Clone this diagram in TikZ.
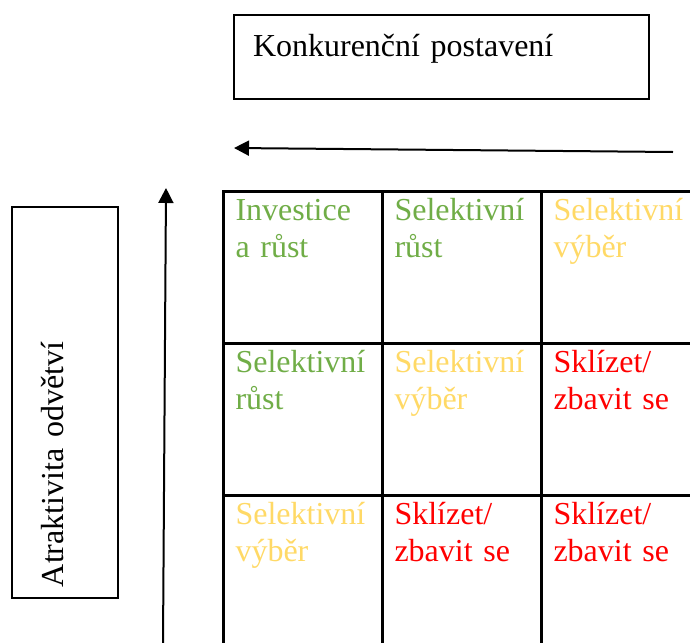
\documentclass[tikz,border=0pt]{standalone}
\usepackage{fontspec}
\setmainfont{Liberation Serif}
\usepackage{xcolor}
\usetikzlibrary{positioning,arrows.meta}
\definecolor{growgreen}{HTML}{70AD47}
\definecolor{selyellow}{HTML}{FFD966}
\definecolor{harvred}{HTML}{FF0000}
\tikzset{
cell/.style={draw, line width=2.25pt, anchor=north west, align=left, inner xsep=9pt, inner ysep=0pt,
  text width=101.25pt, text height=21.75pt, text depth=92.25pt},
axisbox/.style={draw, line width=1.5pt, align=left, inner ysep=0pt},
axisarrow/.style={line width=1.5pt, -{Triangle[length=11.25pt,width=11.25pt]}}
}
\begin{document}
\begin{tikzpicture}[x=0.75pt, y=-0.75pt, font=\fontsize{24}{27.75}\selectfont]
   \useasboundingbox (0,0) rectangle (690,643);
   \node[axisbox, anchor=north west, inner xsep=14.25pt, text width=282.75pt, text height=30.75pt, text depth=32.25pt] (konk) at (233,14) {Konkurenční postavení};
   \node[axisbox, rotate=90, inner xsep=8.25pt, text width=276.75pt, text height=38.25pt, text depth=41.25pt] (atrak) at (65,402.5) {Atraktivita odvětví};
   \coordinate (hstart) at (673,152);
   \coordinate (hend) at (234,148);
   \coordinate (vstart) at (163,643);
   \coordinate (vend) at (166,188);
   \draw[axisarrow] (hstart) -- (hend);
   \draw[axisarrow] (vstart) -- (vend);
   \node[cell, text=growgreen] (c11) at (222,190) {Investice\\a růst};
   \node[cell, text=growgreen] (c12) at (381,190) {Selektivní\\růst};
   \node[cell, text=selyellow] (c13) at (540,190) {Selektivní\\výběr};
   \node[cell, text=growgreen] (c21) at (222,342) {Selektivní\\růst};
   \node[cell, text=selyellow] (c22) at (381,342) {Selektivní\\výběr};
   \node[cell, text=harvred] (c23) at (540,342) {Sklízet/\\zbavit se};
   \node[cell, text=selyellow] (c31) at (222,494) {Selektivní\\výběr};
   \node[cell, text=harvred] (c32) at (381,494) {Sklízet/\\zbavit se};
   \node[cell, text=harvred] (c33) at (540,494) {Sklízet/\\zbavit se};
\end{tikzpicture}
\end{document}
